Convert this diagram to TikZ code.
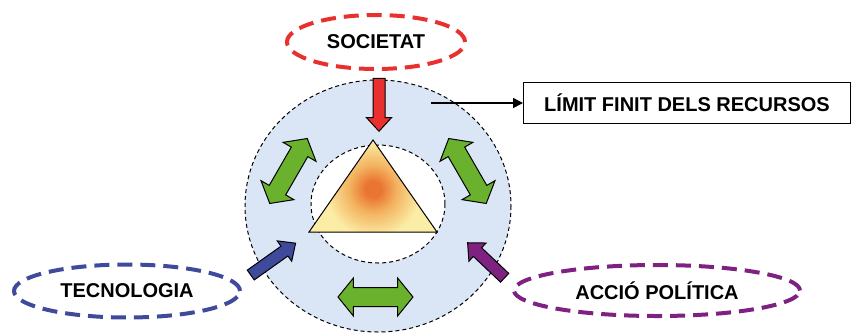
\documentclass[tikz,border=0pt]{standalone}
\usepackage{fontspec}
\setmainfont{Liberation Sans}
\usetikzlibrary{arrows.meta, shapes.geometric, shapes.arrows, positioning}

\definecolor{ringblue}{HTML}{DAE5F5}
\definecolor{socred}{HTML}{E8312E}
\definecolor{swapgreen}{HTML}{6AB12E}
\definecolor{tecblue}{HTML}{3F4A9B}
\definecolor{polpurple}{HTML}{7E2181}
\definecolor{triyellow}{HTML}{FBEDA6}
\definecolor{trimid}{HTML}{F3B360}
\definecolor{triorange}{HTML}{EA7532}

\pgfdeclareradialshading{triglow}{\pgfpoint{0bp}{0bp}}{%
  color(0bp)=(triorange); color(4bp)=(triorange); color(12bp)=(trimid);
  color(24bp)=(triyellow); color(50bp)=(triyellow)}

\tikzset{
  lbl/.style={font=\fontsize{20}{24}\selectfont\bfseries},
  agent/.style={ellipse, lbl, line width=4pt, dash pattern=on 15pt off 8pt, inner sep=0pt},
  push/.style={single arrow, draw=black, line width=1pt, inner xsep=0pt, inner ysep=5.5pt,
    single arrow head extend=6.5pt, single arrow tip angle=85},
  swap/.style={double arrow, draw=black, fill=swapgreen, line width=1pt, inner xsep=0pt, inner ysep=9pt,
    double arrow head extend=9.5pt, double arrow tip angle=102, minimum height=75pt},
  ring/.style={line width=1pt, dash pattern=on 4pt off 3pt},
}

\begin{document}
\begin{tikzpicture}[x=1pt, y=-1pt]
\useasboundingbox (0,0) rectangle (852,333);

%% the ring round the triangle
\filldraw[ring, fill=ringblue] (378,206) ellipse [x radius=133, y radius=126];
\filldraw[ring, fill=white] (378,204) ellipse [x radius=67, y radius=59];

%% triangle
\coordinate (apex) at (373,140);
\coordinate (bl) at (309,232);
\coordinate (br) at (437,232);
\fill[triyellow] (apex) -- (bl) -- (br) -- cycle;
\begin{scope}
\clip (apex) -- (bl) -- (br) -- cycle;
\shade[shading=triglow] (373,189) circle (50pt);
\end{scope}
\draw[line width=1pt] (apex) -- (bl) -- (br) -- cycle;

%% block arrows
\node[push, fill=socred, minimum height=53pt, rotate=-90] (socpush) at (379,101.5) {};
\node[push, fill=tecblue, minimum height=55pt, rotate=35.4] (tecpush) at (270.5,261) {};
\node[push, fill=polpurple, minimum height=51pt, rotate=136.6] (polpush) at (488.5,262.5) {};
\node[swap, rotate=60] (swapleft) at (288.5,171) {};
\node[swap, rotate=-60] (swapright) at (467.5,171) {};
\node[swap] (swapbottom) at (375.5,297) {};

%% agents
\node[agent, draw=socred, minimum width=178pt, minimum height=54pt] (societat) at (376,42) {SOCIETAT};
\node[agent, draw=tecblue, minimum width=226pt, minimum height=53pt] (tecnologia) at (127,291) {TECNOLOGIA};
\node[agent, draw=polpurple, minimum width=286pt, minimum height=51pt] (accio) at (657,290.5) {ACCIÓ POLÍTICA};

%% limit
\node[lbl, draw, line width=1pt, minimum width=327pt, minimum height=41pt, inner sep=0pt] (limit) at (687,103) {LÍMIT FINIT DELS RECURSOS};
\coordinate (limfrom) at (431,103);
\draw[line width=1.5pt, -{Triangle[length=10pt, width=10pt]}] (limfrom) -- (limit.west);
\end{tikzpicture}
\end{document}
